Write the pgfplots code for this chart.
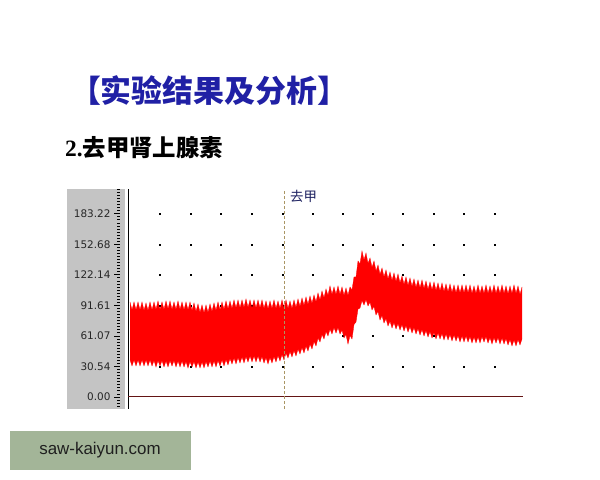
\documentclass[border=0pt]{standalone}
\usepackage{fontspec}
\setmainfont{Liberation Sans}
\newfontfamily\cjk{Noto Sans CJK SC}
\newfontfamily\serif{Liberation Serif}
\newfontfamily\ticksans{DejaVu Sans}
\usepackage{pgfplots}
\pgfplotsset{compat=1.18}
\usepackage{pgfplotstable}
\usepgfplotslibrary{fillbetween}

\pgfdeclarelayer{bglayer}
\pgfdeclarelayer{axis background}
\pgfdeclarelayer{axis grid}
\pgfdeclarelayer{axis ticks}
\pgfdeclarelayer{axis lines}
\pgfdeclarelayer{axis tick labels}
\pgfdeclarelayer{pre main}
\pgfdeclarelayer{axis descriptions}
\pgfdeclarelayer{axis foreground}
\pgfplotsset{
    layers/bgstd/.define layer set={bglayer,axis background,axis grid,axis ticks,axis lines,axis tick labels,pre main,main,axis descriptions,axis foreground}{},
    set layers=bgstd,
}

\definecolor{titleblue}{RGB}{32,32,165}
\definecolor{panelgray}{RGB}{196,196,196}
\definecolor{zeroline}{RGB}{100,20,20}
\definecolor{markline}{RGB}{170,150,100}
\definecolor{labelnavy}{RGB}{28,32,96}
\definecolor{wmgreen}{RGB}{163,181,152}

% pressure trace: upper and lower edge of the dense oscillation
\pgfplotstableread{
x up lo
2 95 37
4 87 31
6 95 37
8 87 31
10 95 37
12 87 31
14 95 37
16 86.5 31
18 94 37
20 86.5 31
22 95 37
24 87 31
26 95 36.5
28 87.5 30
30 96 36.5
32 87.5 31
34 95 36.5
36 87.5 30
38 96 36
40 88 30
42 96 36.5
44 87.5 31
46 95 36.5
48 87.5 30
50 96 36
52 87.5 30
54 95 36
56 87 30
58 95 35.5
60 87 29
62 95 35.5
64 86.5 30
66 94 35.5
68 85.5 29
70 93 35
72 84.5 29
74 92 35
76 84 29
78 92 35.5
80 84.5 30
82 93 36
84 85.5 30
86 94 36
88 86.5 30
90 95 36.5
92 87 31
94 95 37
96 87.5 31
98 96 37.5
100 88 32
102 96 38.5
104 88.5 33
106 97 39
108 89 33
110 97 39.5
112 89 34
114 97 40
116 89.5 34
118 98 40.5
120 89.5 35
122 97 41
124 89 35
126 97 41
128 89 35
130 97 41
132 89 35
134 97 40.5
136 88.5 34
138 96 39.5
140 88 33
142 96 39.5
144 88.5 34
146 97 40.5
148 88.5 35
150 96 41.5
152 88.5 36
154 97 42.5
156 89 37
158 97 44
160 88.5 39
162 96 45.5
164 88.5 40
166 97 46.5
168 89.5 41
170 98 48
172 90.5 43
174 99 49.5
176 91.5 44
178 100 51
180 92.5 46
182 101 53
184 93.5 48
186 102 55.5
188 95 51
190 104 59
192 97 55
194 106 62.5
196 99 58
198 108 65.5
200 101.5 61
202 111 68
204 102.5 63
206 110 69.5
208 102.5 64
210 111 69.5
212 102.5 63
214 110 67
216 101.5 59
218 109 62.5
220 101.5 53
222 110 61.5
224 107 58
226 120 72.5
228 120 75
230 136 88
232 133 89
234 146 96.5
236 137 92
238 144 97.5
240 133.5 91
242 139 95
244 129.5 87
246 136 90.5
248 126 82
250 132 85.5
252 122.5 77
254 129 81.5
256 120 74
258 127 78.5
260 118 71
262 125 76
264 116.5 69
266 124 74.5
268 115.5 68
270 123 73.5
272 114 67
274 121 72.5
276 112.5 66
278 120 71.5
280 111.5 65
282 119 70.5
284 110.5 64
286 118 69.5
288 109.5 63
290 117 68.5
292 109 62
294 117 67.5
296 108.5 61
298 116 66.5
300 107.5 60
302 115 65.5
304 107 59
306 115 64.5
308 106.5 58
310 114 64
312 106 58
314 114 63.5
316 105.5 57
318 113 63
320 105 57
322 113 62.5
324 104.5 56
326 112 62
328 104 56
330 112 61.5
332 104 55
334 112 61
336 104 55
338 112 61
340 104 55
342 112 60.5
344 103.5 54
346 111 60
348 103.5 54
350 112 60
352 103.5 54
354 111 60.5
356 103.5 55
358 112 60.5
360 103.5 54
362 111 59.5
364 103.5 53
366 112 59.5
368 103.5 54
370 111 59.5
372 103.5 53
374 112 59
376 103.5 53
378 111 58.5
380 103 52
382 111 57.5
384 103.5 51
386 112 57
388 103.5 51
390 111 57.5
392 102.5 52
394 110 58
}\wave

\begin{document}
\begin{tikzpicture}
\pgfsetlayers{bglayer,axis background,axis grid,axis ticks,axis lines,axis tick labels,pre main,main,axis descriptions,axis foreground}
\begin{pgfonlayer}{bglayer}
\fill[white] (0,0) rectangle (600bp,480bp);
% gray scale panel
\fill[panelgray] (67bp,71bp) rectangle (125bp,291bp);
\end{pgfonlayer}

% titles
\node[anchor=center, inner sep=0, text=titleblue] at (209bp,389bp)
  {\fontsize{31}{34}\selectfont\cjk\bfseries 【实验结果及分析】};
\node[anchor=base west, inner sep=0] at (65bp,323bp)
  {\fontsize{23.5}{26}\selectfont{\serif\bfseries 2.}{\cjk\bfseries 去甲肾上腺素}};

\begin{axis}[
    at={(128bp,71bp)}, anchor=south west,
    width=397bp, height=220bp, scale only axis,
    xmin=0, xmax=397, ymin=-12, ymax=208,
    clip=false,
    axis x line=none,
    axis y line*=left,
    axis line style={black, line width=1bp},
    xtick=\empty,
    ytick={0,30.54,61.07,91.61,122.14,152.68,183.22},
    yticklabels={0.00,30.54,61.07,91.61,122.14,152.68,183.22},
    minor ytick={-12.216,-9.162,...,207.7},
    tick align=outside,
    major tick length=6bp, minor tick length=3bp,
    every tick/.style={black, line width=0.8bp, xshift=-8bp},
    yticklabel style={font=\ticksans\fontsize{10.5}{12}\selectfont, text=black!85, xshift=-8bp},
    /pgf/number format/assume math mode=true,
]
% dotted grid
\pgfplotsinvokeforeach{183.22,152.68,122.14,91.61,61.07,30.54}{
  \addplot[only marks, mark=square*, mark size=0.6bp, black]
    coordinates {(32,#1) (63,#1) (93,#1) (124,#1) (155,#1) (185,#1)
                 (215,#1) (245,#1) (275,#1) (306,#1) (336,#1) (367,#1)};
}
% zero line
\addplot[zeroline, line width=1bp] coordinates {(0,0) (395,0)};
% signal
\addplot[red, line width=0.3bp, name path=up] table[x=x, y=up] {\wave};
\addplot[red, line width=0.3bp, name path=lo] table[x=x, y=lo] {\wave};
\addplot[red] fill between[of=up and lo, on layer=axis foreground];
% drug marker
\addplot[markline, line width=0.8bp, dash pattern=on 3bp off 2bp, on layer=axis foreground]
  coordinates {(156.5,-12) (156.5,208)};
\node[anchor=west, inner sep=0, text=labelnavy] at (axis cs:162,200.5)
  {\fontsize{13.5}{15}\selectfont\cjk 去甲};
\end{axis}

% watermark
\fill[wmgreen] (10bp,10bp) rectangle (190.7bp,49bp);
\node[text=black!88] at (100bp,30bp) {\fontsize{17}{19}\selectfont saw-kaiyun.com};
\end{tikzpicture}
\end{document}
